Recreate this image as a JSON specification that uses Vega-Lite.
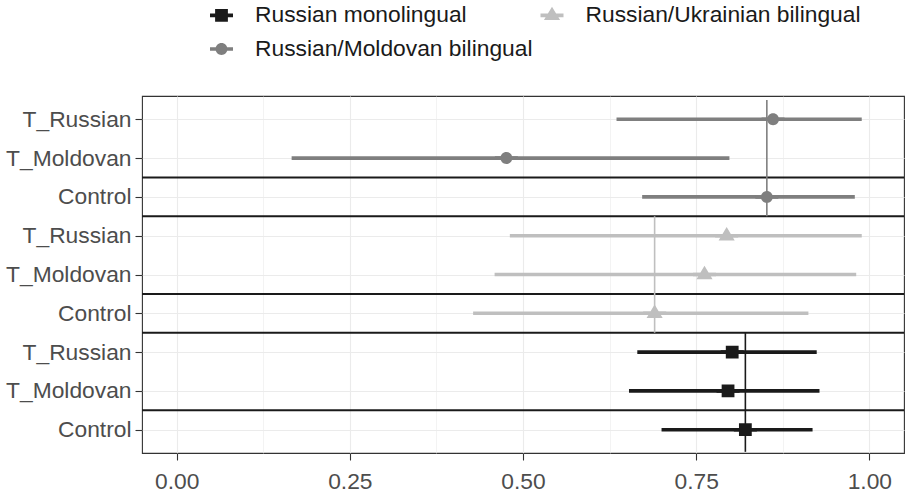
{
  "$schema": "https://vega.github.io/schema/vega-lite/v6.json",
  "width": 762,
  "height": 357,
  "autosize": {"type": "none"},
  "padding": {"left": 142, "top": 96, "right": 1, "bottom": 43},
  "background": "white",
  "config": {
    "view": {"stroke": "#333333", "strokeWidth": 1.1},
    "font": "Liberation Sans"
  },
  "datasets": {
    "est": [
      {"row": 1, "label": "T_Russian", "group": "Russian/Moldovan bilingual", "est": 0.861, "lo": 0.635, "hi": 0.989},
      {"row": 2, "label": "T_Moldovan", "group": "Russian/Moldovan bilingual", "est": 0.476, "lo": 0.166, "hi": 0.798},
      {"row": 3, "label": "Control", "group": "Russian/Moldovan bilingual", "est": 0.852, "lo": 0.672, "hi": 0.979},
      {"row": 4, "label": "T_Russian", "group": "Russian/Ukrainian bilingual", "est": 0.794, "lo": 0.481, "hi": 0.989},
      {"row": 5, "label": "T_Moldovan", "group": "Russian/Ukrainian bilingual", "est": 0.762, "lo": 0.459, "hi": 0.981},
      {"row": 6, "label": "Control", "group": "Russian/Ukrainian bilingual", "est": 0.690, "lo": 0.428, "hi": 0.912},
      {"row": 7, "label": "T_Russian", "group": "Russian monolingual", "est": 0.802, "lo": 0.665, "hi": 0.924},
      {"row": 8, "label": "T_Moldovan", "group": "Russian monolingual", "est": 0.796, "lo": 0.653, "hi": 0.928},
      {"row": 9, "label": "Control", "group": "Russian monolingual", "est": 0.821, "lo": 0.700, "hi": 0.918}
    ],
    "refs": [
      {"group": "Russian/Moldovan bilingual", "x": 0.852, "y1": 0.5, "y2": 3.5},
      {"group": "Russian/Ukrainian bilingual", "x": 0.690, "y1": 3.5, "y2": 6.5},
      {"group": "Russian monolingual", "x": 0.821, "y1": 6.5, "y2": 9.57}
    ],
    "seps": [
      {"y": 2.5}, {"y": 3.5}, {"y": 5.5}, {"y": 6.5}, {"y": 8.5}
    ]
  },
  "layer": [
    {
      "data": {"name": "est"},
      "mark": {"type": "rule", "strokeWidth": 3.6, "opacity": 1},
      "encoding": {
        "y": {
          "field": "row", "type": "quantitative", "title": null,
          "scale": {"domain": [0.4, 9.6], "reverse": true, "nice": false, "zero": false},
          "axis": {
            "values": [1, 2, 3, 4, 5, 6, 7, 8, 9],
            "labelExpr": "['T_Russian','T_Moldovan','Control'][(datum.value - 1) % 3]",
            "domain": false,
            "grid": true, "gridColor": "#ebebeb", "gridWidth": 1.1,
            "ticks": true, "tickColor": "#333333", "tickSize": 7, "tickWidth": 1.1,
            "labelFontSize": 22.8, "labelColor": "#4d4d4d", "labelPadding": 4,
            "labelFont": "Liberation Sans", "labelLimit": 300
          }
        },
        "x": {
          "field": "lo", "type": "quantitative", "title": null,
          "scale": {"domain": [-0.05, 1.05], "nice": false, "zero": false},
          "axis": {
            "values": [0, 0.125, 0.25, 0.375, 0.5, 0.625, 0.75, 0.875, 1],
            "labelExpr": "(datum.value * 8) % 2 === 0 ? format(datum.value, '.2f') : ''",
            "domain": false,
            "grid": true, "gridColor": "#ebebeb",
            "gridWidth": {"condition": {"test": "(datum.value * 8) % 2 === 0", "value": 1.1}, "value": 0.6},
            "tickOpacity": {"condition": {"test": "(datum.value * 8) % 2 === 0", "value": 1}, "value": 0},
            "tickColor": "#333333", "tickSize": 7, "tickWidth": 1.1,
            "labelFontSize": 22.8, "labelColor": "#4d4d4d", "labelPadding": 10,
            "labelFont": "Liberation Sans"
          }
        },
        "x2": {"field": "hi"},
        "color": {"field": "group", "type": "nominal", "title": null,
          "scale": {"domain": ["Russian monolingual", "Russian/Ukrainian bilingual", "Russian/Moldovan bilingual"], "range": ["#1a1a1a", "#bfbfbf", "#7f7f7f"]}}
      }
    },
    {
      "data": {"name": "seps"},
      "mark": {"type": "rule", "color": "#1a1a1a", "strokeWidth": 2},
      "encoding": {
        "y": {"field": "y", "type": "quantitative", "title": null}
      }
    },
    {
      "data": {"name": "refs"},
      "mark": {"type": "rule", "strokeWidth": 1.6, "opacity": 1},
      "encoding": {
        "x": {"field": "x", "type": "quantitative", "title": null},
        "y": {"field": "y1", "type": "quantitative", "title": null},
        "y2": {"field": "y2"},
        "color": {"field": "group", "type": "nominal", "title": null}
      }
    },
    {
      "data": {"name": "est"},
      "mark": {"type": "point", "filled": true, "size": 529, "opacity": 1, "strokeWidth": 0},
      "encoding": {
        "x": {"field": "est", "type": "quantitative", "title": null},
        "y": {"field": "row", "type": "quantitative", "title": null},
        "color": {"field": "group", "type": "nominal", "title": null,
          "legend": {
            "orient": "none", "legendX": 68, "legendY": -92.5,
            "direction": "horizontal", "columns": 2, "columnPadding": 7.5, "rowPadding": 10,
            "symbolSize": 529, "symbolOpacity": 1, "symbolStrokeWidth": 0,
            "labelFontSize": 22.8, "labelFont": "Liberation Sans",
            "labelColor": "#1a1a1a", "labelOffset": 22, "labelLimit": 500, "padding": 0,
            "title": null
          }
        },
        "shape": {"field": "group", "type": "nominal", "title": null,
          "scale": {"domain": ["Russian monolingual", "Russian/Ukrainian bilingual", "Russian/Moldovan bilingual"],
            "range": [
              "M-1,-0.157H1V0.157H-1ZM-0.556,-0.556H0.556V0.556H-0.556Z",
              "M-1,-0.157H1V0.157H-1ZM0,-0.757L0.7,0.41L-0.7,0.41Z",
              "M-1,-0.157H1V0.157H-1ZM0.52,0A0.52,0.52,0,1,1,-0.52,0A0.52,0.52,0,1,1,0.52,0Z"
            ]}}
      }
    }
  ]
}
